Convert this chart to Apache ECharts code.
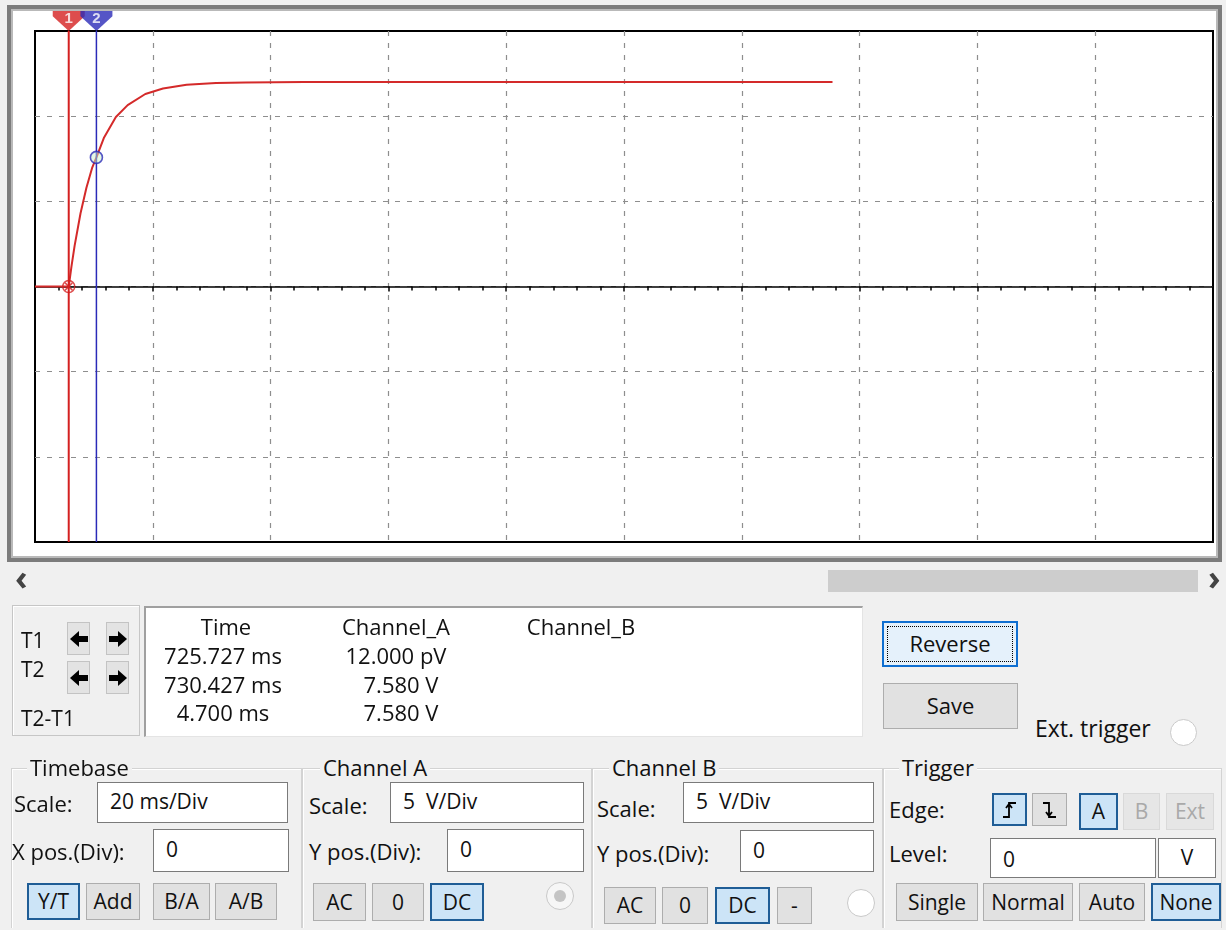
<!DOCTYPE html>
<html><head><meta charset="utf-8">
<script src="https://cdn.jsdelivr.net/npm/echarts/dist/echarts.min.js"></script>
<style>
html,body{margin:0;padding:0}
body{width:1226px;height:930px;background:#f0f0f0;position:relative;overflow:hidden;font-family:"Open Sans","Noto Sans",sans-serif;color:#111}
#frame{position:absolute;left:7px;top:5px;width:1207px;height:549px;border:4px solid #7c7c7c;box-shadow:inset 0 0 0 2px #b9b9b9;background:#fff}
#chart{position:absolute;left:0;top:0;width:1226px;height:562px}
.a{position:absolute;box-sizing:border-box;white-space:nowrap}
.lbl{font-size:22px;line-height:26px;height:26px}
.inp{background:#fff;border:1px solid #7a7a7a;font-size:21px;padding-left:12px}
.btn{background:#e1e1e1;border:1px solid #adadad;font-size:21px;text-align:center}
.sel{background:#cce4f7;border:2px solid #1f5d96}
.dis{background:#e6e6e6;border:1px solid #d9d9d9;color:#a9a9a9}
.grp{border:1px solid #d3d3d3;border-bottom:none;box-shadow:inset 1px 1px 0 #fff}
.radio{border-radius:50%;background:#fff;border:1px solid #c9c9c9}
</style></head><body>
<div id="frame"></div>
<div id="chart"></div>
<div id="panel"></div>
<script>
// ---- data ----
const traceTime = [720, 725.73, 726.2, 726.73, 727.73, 728.73, 729.73, 730.43, 731.73, 733.73, 735.73, 738.73, 741.73, 745.73, 750.73, 755.73, 765.73, 855.4];
const traceVolt = [0, 0, 1.2, 2.4, 4.3, 5.8, 7.0, 7.58, 8.75, 9.95, 10.65, 11.3, 11.62, 11.84, 11.94, 11.98, 12.0, 12.0];
const cursorTime = [725.727, 730.427];
const cursorVolt = [0, 7.58];
const cursorNames = ['1', '2'];
const readoutTime = ['725.727 ms', '730.427 ms', '4.700 ms'];
const readoutA = ['12.000 pV', '7.580 V', '7.580 V'];
const readoutRows = ['T1', 'T2', 'T2-T1'];
const timeRange = [720, 920];   // 20 ms/Div x 10 Div
const voltRange = [-15, 15];    // 5 V/Div x 6 Div

// ---- chart ----
const chart = echarts.init(document.getElementById('chart'), null, {renderer: 'canvas'});
const dash = {color: '#8e8e8e', type: [5, 7], width: 1.2};
const cursorColors = ['#d42020', '#2a2ab8'];
chart.setOption({
  animation: false,
  grid: {left: 35, top: 31, width: 1178, height: 511, show: true, borderColor: '#000', borderWidth: 2, backgroundColor: '#fff', z: 0},
  xAxis: {type: 'value', min: timeRange[0], max: timeRange[1], interval: 20,
    axisLabel: {show: false},
    axisLine: {show: true, onZero: true, lineStyle: {color: '#000', width: 1.6}},
    axisTick: {show: true, length: 5, lineStyle: {color: '#000', width: 1.5}},
    minorTick: {show: true, splitNumber: 5, length: 4, lineStyle: {color: '#000', width: 1.5}},
    splitLine: {show: true, showMinLine: false, showMaxLine: false, lineStyle: dash}},
  yAxis: {type: 'value', min: voltRange[0], max: voltRange[1], interval: 5,
    axisLabel: {show: false}, axisLine: {show: false}, axisTick: {show: false},
    splitLine: {show: true, showMinLine: false, showMaxLine: false, lineStyle: dash}},
  series: [
    {type: 'line', data: traceTime.map((t, i) => [t, traceVolt[i]]), showSymbol: false, z: 3,
     lineStyle: {color: '#d42a2a', width: 2}},
    ...cursorTime.map((t, i) => ({type: 'line', data: [[t, voltRange[0]], [t, voltRange[1]]], showSymbol: false, z: 4,
      lineStyle: {color: cursorColors[i], width: i === 0 ? 2 : 1.5}})),
    {type: 'scatter', clip: false, z: 6,
     symbol: 'path://M0,0 L30,0 L30,5 L15,19 L0,5 Z', symbolSize: [32, 20], symbolOffset: [0, '-50%'],
     data: cursorTime.map((t, i) => ({value: [t, voltRange[1]], name: cursorNames[i],
       itemStyle: {color: cursorColors[i]}})),
     label: {show: true, position: 'inside', formatter: '{b}', color: '#fff', fontWeight: 'bold', fontSize: 15, offset: [0, -2]}},
    {type: 'scatter', clip: false, z: 7,
     data: [
       {value: [cursorTime[0], cursorVolt[0]], symbol: 'path://M0,5 A5,5 0 1,1 10,5 A5,5 0 1,1 0,5 Z M2,2 L8,8 M8,2 L2,8',
        symbolSize: 12, itemStyle: {color: 'rgba(255,255,255,0)', borderColor: cursorColors[0], borderWidth: 1.5}},
       {value: [cursorTime[1], cursorVolt[1]], symbol: 'circle', symbolSize: 12,
        itemStyle: {color: 'rgba(200,240,200,0.6)', borderColor: cursorColors[1], borderWidth: 1.6}}
     ]}
  ]
});

// ---- instrument panel ----
const panel = document.getElementById('panel');
function box(x, y, w, h, cls, html, style) {
  const d = document.createElement('div');
  d.className = 'a ' + (cls || '');
  d.style.left = x + 'px'; d.style.top = y + 'px';
  if (w != null) d.style.width = w + 'px';
  if (h != null) { d.style.height = h + 'px'; d.style.lineHeight = (h - (/sel/.test(cls) ? 4 : 2)) + 'px'; }
  if (html != null) d.innerHTML = html;
  if (style) d.setAttribute('style', d.getAttribute('style') + ';' + style);
  panel.appendChild(d); return d;
}
function lbl(text, x, cy, style) { return box(x, cy - 13, null, null, 'lbl', text, style); }
function clbl(text, cx, cy, style) { return box(cx - 100, cy - 13, 200, null, 'lbl', text, 'text-align:center;' + (style || '')); }

// scrollbar
lbl('&lsaquo;', 15, 577, 'font-size:34px;color:#444;font-weight:bold');
box(828, 570, 370, 22, '', '', 'background:#cdcdcd');
lbl('&rsaquo;', 1208, 577, 'font-size:34px;color:#444;font-weight:bold');

// cursor box
box(12, 605, 128, 131, '', '', 'border:1px solid #c6c6c6;box-shadow:inset 1px 1px 0 #fff');
const arrL = '<svg width="20" height="18" viewBox="0 0 20 18"><polygon points="1,9 10,1 10,6 19,6 19,12 10,12 10,17" fill="#000"/></svg>';
const arrR = '<svg width="20" height="18" viewBox="0 0 20 18"><polygon points="19,9 10,1 10,6 1,6 1,12 10,12 10,17" fill="#000"/></svg>';
lbl(readoutRows[0], 21, 640, 'font-size:21px'); lbl(readoutRows[1], 21, 669, 'font-size:21px'); lbl(readoutRows[2], 21, 718, 'font-size:21px');
[[67, 622], [106, 622], [67, 661], [106, 661]].forEach((p, i) => {
  box(p[0], p[1], 23, 33, '', i % 2 ? arrR : arrL, 'background:#e3e3e3;border:1px solid #c3c3c3;display:flex;align-items:center;justify-content:center');
});
box(144, 606, 719, 131, '', '', 'background:#fff;border-top:2px solid #a0a0a0;border-left:2px solid #a0a0a0;border-right:1px solid #e4e4e4;border-bottom:1px solid #e4e4e4');
clbl('Time', 226, 626); clbl('Channel_A', 396, 626); clbl('Channel_B', 581, 626);
readoutTime.forEach((t, i) => clbl(t, 223, 655 + i * 28.5));
readoutA.forEach((t, i) => clbl(t, i === 0 ? 396 : 401, 655 + i * 28.5));

// Reverse / Save / Ext trigger
box(882, 621, 136, 46, '', '<div style="position:absolute;left:3px;top:3px;right:3px;bottom:3px;border:1px dotted #000"></div>Reverse',
  'background:#e5f1fb;border:2px solid #0f6fd1;font-size:22px;text-align:center;line-height:41px');
box(883, 683, 135, 46, 'btn', 'Save', 'line-height:42px;font-size:22px');
lbl('Ext. trigger', 1035, 728, 'font-size:23px');
box(1170, 719, 27, 27, 'radio');

// group boxes
box(11, 768, 291, 160, 'grp'); box(302, 768, 290, 160, 'grp'); box(592, 768, 291, 160, 'grp'); box(883, 768, 339, 160, 'grp');
lbl('Timebase', 27, 767, 'background:#f0f0f0;padding:0 3px');
lbl('Channel A', 320, 767, 'background:#f0f0f0;padding:0 3px');
lbl('Channel B', 609, 767, 'background:#f0f0f0;padding:0 3px');
lbl('Trigger', 899, 767, 'background:#f0f0f0;padding:0 3px');

// Timebase
lbl('Scale:', 14, 803); box(97, 782, 191, 41, 'inp', '20 ms/Div', 'line-height:36px');
lbl('X pos.(Div):', 12, 851); box(153, 829, 136, 43, 'inp', '0', 'line-height:38px');
box(27, 883, 53, 37, 'btn sel', 'Y/T'); box(86, 883, 54, 37, 'btn', 'Add');
box(153, 883, 57, 37, 'btn', 'B/A'); box(215, 883, 62, 37, 'btn', 'A/B');

// Channel A
lbl('Scale:', 309, 805); box(390, 782, 194, 41, 'inp', '5&nbsp; V/Div', 'line-height:36px');
lbl('Y pos.(Div):', 309, 851); box(447, 829, 137, 43, 'inp', '0', 'line-height:38px');
box(313, 883, 53, 38, 'btn', 'AC'); box(372, 883, 52, 38, 'btn', '0'); box(430, 883, 54, 38, 'btn sel', 'DC');
box(546, 882, 28, 28, 'radio', '<div style="position:absolute;left:7px;top:7px;width:12px;height:12px;border-radius:50%;background:#c4c4c4"></div>', 'background:#f6f6f6');

// Channel B
lbl('Scale:', 597, 808); box(683, 782, 191, 41, 'inp', '5&nbsp; V/Div', 'line-height:36px');
lbl('Y pos.(Div):', 597, 853); box(740, 830, 134, 42, 'inp', '0', 'line-height:38px');
box(604, 887, 52, 37, 'btn', 'AC'); box(662, 887, 46, 37, 'btn', '0'); box(715, 887, 55, 37, 'btn sel', 'DC'); box(777, 887, 35, 37, 'btn', '-');
box(847, 889, 28, 28, 'radio');

// Trigger
lbl('Edge:', 889, 809);
const rise = '<svg width="20" height="22" viewBox="0 0 20 22"><path d="M3,18 H9 V4 H16 M6,9 L9,5 L12,9" stroke="#000" stroke-width="1.8" fill="none"/></svg>';
const fall = '<svg width="20" height="22" viewBox="0 0 20 22"><path d="M3,4 H9 V18 H16 M6,13 L9,17 L12,13" stroke="#000" stroke-width="1.8" fill="none"/></svg>';
box(992, 793, 35, 33, 'btn sel', rise, 'display:flex;align-items:center;justify-content:center');
box(1032, 793, 35, 33, 'btn', fall, 'display:flex;align-items:center;justify-content:center');
box(1079, 793, 39, 37, 'btn sel', 'A'); box(1123, 793, 37, 37, 'btn dis', 'B'); box(1166, 793, 48, 37, 'btn dis', 'Ext');
lbl('Level:', 889, 853);
box(990, 838, 166, 40, 'inp', '0', 'line-height:40px');
box(1158, 838, 58, 40, 'inp', 'V', 'text-align:center;padding-left:0;line-height:36px');
box(896, 883, 82, 38, 'btn', 'Single'); box(983, 883, 90, 38, 'btn', 'Normal'); box(1079, 883, 66, 38, 'btn', 'Auto'); box(1151, 883, 70, 38, 'btn sel', 'None');
</script>
</body></html>
